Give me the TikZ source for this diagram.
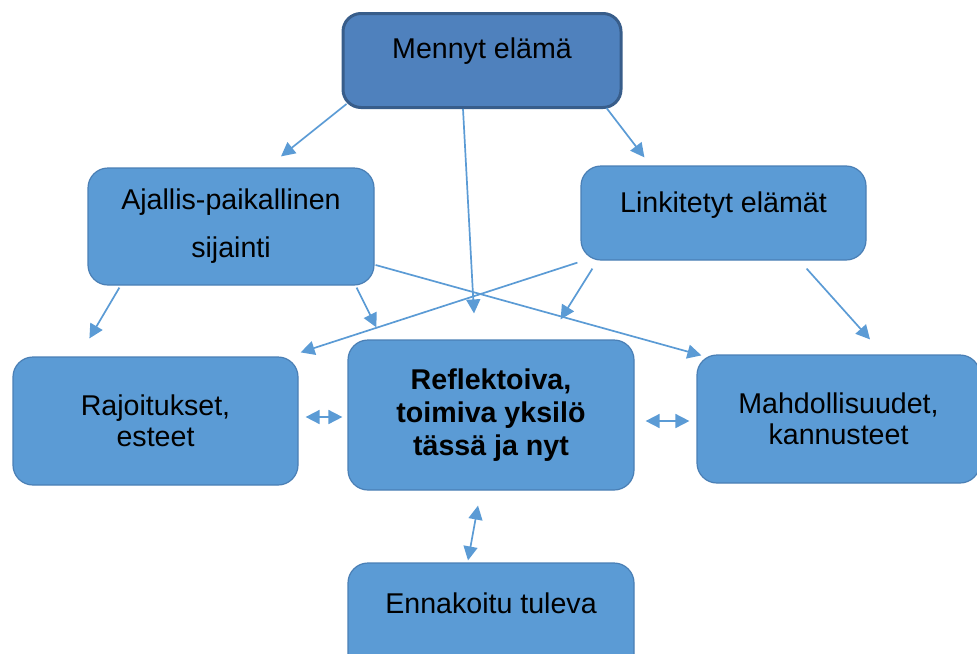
\documentclass[tikz,border=0pt]{standalone}
\usepackage{fontspec}
\setmainfont{Liberation Sans}
\usetikzlibrary{arrows.meta}
\definecolor{boxblue}{HTML}{5B9BD5}
\definecolor{boxedge}{HTML}{4A7FB5}
\definecolor{topblue}{HTML}{4F81BD}
\definecolor{topedge}{HTML}{385D8A}
\definecolor{arrowblue}{HTML}{5B9BD5}
\begin{document}
\begin{tikzpicture}[x=0.5pt, y=0.5pt,
  box/.style={draw=boxedge, fill=boxblue, line width=0.6pt, rounded corners=10pt,
    minimum width=143pt, align=center, inner sep=0pt,
    font=\fontsize{14.3}{15.5}\selectfont},
  topbox/.style={box, draw=topedge, fill=topblue, line width=1.5pt, rounded corners=9pt},
  link/.style={draw=arrowblue, line width=0.85pt, -{Triangle[length=7pt, width=7pt]}},
  twoway/.style={draw=arrowblue, line width=0.85pt,
    {Triangle[length=7pt, width=7pt]}-{Triangle[length=7pt, width=7pt]}}]
  \clip (0,0) rectangle (977,-653);

  % boxes
  \node[topbox, minimum width=139pt, minimum height=47pt,
    label={[yshift=4.5pt, font=\fontsize{14.3}{15.5}\selectfont]center:Mennyt elämä}]
    (past) at (482,-60.5) {};
  \node[box, minimum height=58.5pt, font=\fontsize{14.3}{24}\selectfont]
    (place) at (231,-226.5) {Ajallis-paikallinen\\sijainti};
  \node[box, minimum width=142.5pt, minimum height=47pt,
    label={[yshift=4pt, font=\fontsize{14.3}{15.5}\selectfont]center:Linkitetyt elämät}]
    (lives) at (723.5,-213) {};
  \node[box, minimum width=142.5pt, minimum height=64pt]
    (limits) at (155.5,-421) {Rajoitukset,\\esteet};
  \node[box, minimum height=75pt, font=\fontsize{14.3}{16.5}\selectfont\bfseries]
    (self) at (491,-415) {Reflektoiva,\\toimiva yksilö\\tässä ja nyt};
  \node[box, minimum width=141.5pt, minimum height=64pt]
    (chances) at (838.5,-419) {Mahdollisuudet,\\kannusteet};
  \node[box, minimum height=60pt,
    label={[yshift=10pt, font=\fontsize{14.3}{15.5}\selectfont]center:Ennakoitu tuleva}]
    (future) at (491,-623) {};

  % influences
  \draw[link] ([shift={(5,5)}]past.south west) -- ([shift={(50,11)}]place.north);
  \draw[link] ([shift={(-19,0)}]past.south) -- ([shift={(-17,26)}]self.north);
  \draw[link] ([shift={(-16,1)}]past.south east) -- ([shift={(64,8)}]lives.north west);
  \draw[link] ([shift={(32,-2)}]place.south west) -- ([shift={(77,18)}]limits.north west);
  \draw[link] ([shift={(-18,-2)}]place.south east) -- ([shift={(29,12)}]self.north west);
  \draw[link] ([shift={(1,-38.5)}]place.east) -- ([shift={(5,-1)}]chances.north west);
  \draw[link] ([shift={(-3,-2)}]lives.south west) -- ([shift={(2,4)}]limits.north east);
  \draw[link] ([shift={(12,-8)}]lives.south west) -- ([shift={(-74,20)}]self.north east);
  \draw[link] ([shift={(-60,-8)}]lives.south east) -- ([shift={(31.5,15)}]chances.north);

  % two-way
  \draw[twoway] ([shift={(7,4)}]limits.east) -- ([shift={(-5,-2)}]self.west);
  \draw[twoway] ([shift={(11,-6)}]self.east) -- ([shift={(-7,-2)}]chances.west);
  \draw[twoway] ([shift={(-13,-15)}]self.south) -- ([shift={(-23,2)}]future.north);
\end{tikzpicture}
\end{document}
